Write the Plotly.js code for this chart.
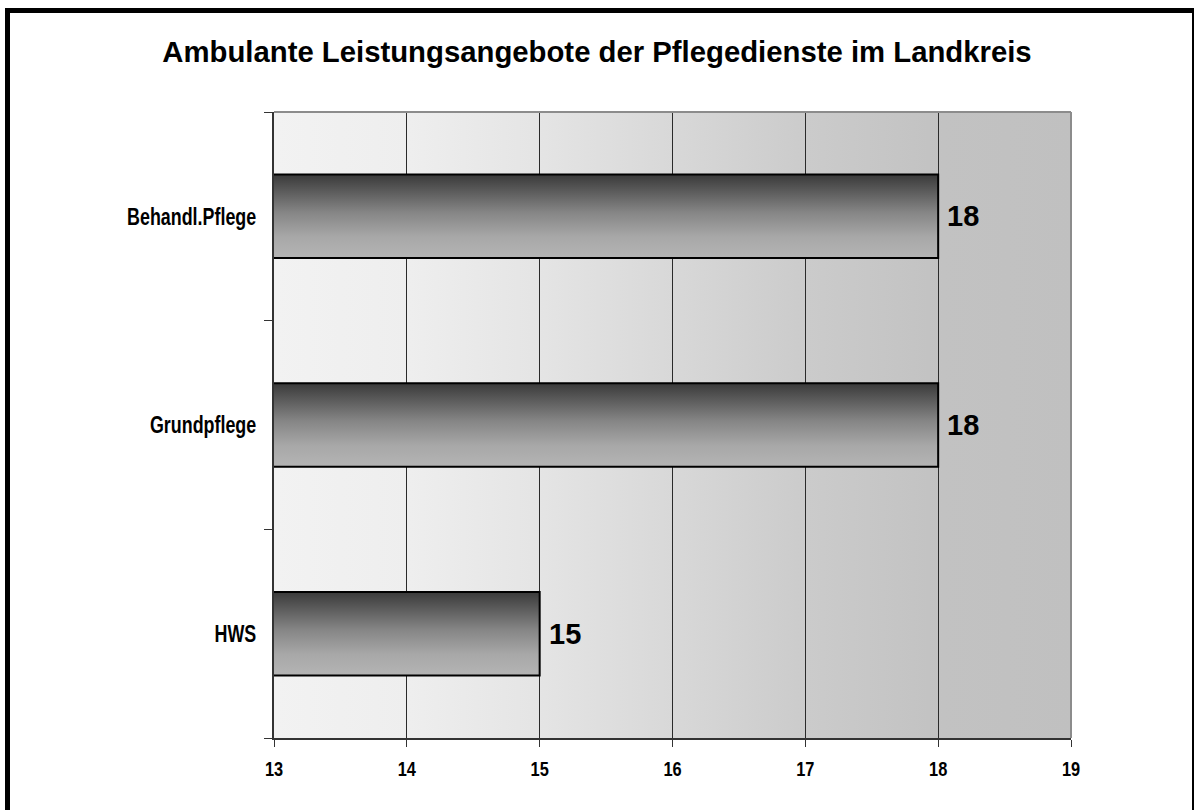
<!DOCTYPE html>
<html>
<head>
<meta charset="utf-8">
<script src="https://cdn.plot.ly/plotly-3.0.1.min.js"></script>
<style>
  html, body { margin: 0; padding: 0; background: #ffffff; }
  #chart { width: 1194px; height: 810px; }
</style>
</head>
<body>
<div id="chart"></div>
<script>
// ---- data ----
const categories = ['HWS', 'Grundpflege', 'Behandl.Pflege'];
const values = [15, 18, 18];
const xTickValues = [13, 14, 15, 16, 17, 18, 19];
const chartTitle = 'Ambulante Leistungsangebote der Pflegedienste im Landkreis';

// ---- layout constants ----
const W = 1194, H = 810;
const M = { l: 274, r: 123, t: 112, b: 72 };
const plotW = W - M.l - M.r, plotH = H - M.t - M.b;
const px2x = p => (p - M.l) / plotW;
const px2y = p => 1 - (p - M.t) / plotH;

const sans = '"Liberation Sans", Arial, sans-serif';

const trace = {
  type: 'bar',
  orientation: 'h',
  x: values,
  y: categories,
  width: 0.4,
  marker: { color: '#808080', line: { color: '#000000', width: 2 } },
  hoverinfo: 'x+y'
};

const annotations = values.map((v, i) => ({
  x: v, y: categories[i], xref: 'x', yref: 'y',
  text: String(v), showarrow: false,
  xanchor: 'left', yanchor: 'middle', xshift: 7,
  font: { family: sans, size: 29, color: '#000000', weight: 'bold' }
}));

const layout = {
  width: W, height: H,
  margin: M,
  paper_bgcolor: '#ffffff',
  plot_bgcolor: '#d8d8d8',
  showlegend: false,
  title: {
    text: '<b>' + chartTitle + '</b>',
    xref: 'container', x: 0.5, xanchor: 'center',
    yref: 'container', y: 1 - 41 / H, yanchor: 'top',
    font: { family: sans, size: 29.3, color: '#000000' }
  },
  xaxis: {
    range: [13, 19],
    tickvals: xTickValues,
    ticktext: xTickValues.map(String),
    showgrid: true, gridcolor: '#2a2a2a', gridwidth: 1,
    zeroline: false,
    showline: true, linecolor: '#333333', linewidth: 2,
    ticks: 'outside', ticklen: 7, tickwidth: 1, tickcolor: '#333333',
    ticklabelstandoff: 4,
    tickfont: { family: sans, size: 21, color: '#000000', weight: 'bold' },
    fixedrange: true
  },
  yaxis: {
    type: 'category',
    categoryorder: 'array', categoryarray: categories,
    range: [-0.5, categories.length - 0.5],
    showgrid: false, zeroline: false,
    showline: true, linecolor: '#333333', linewidth: 2,
    ticks: 'outside', tickson: 'boundaries', ticklen: 8, tickwidth: 1, tickcolor: '#333333',
    ticklabelstandoff: 11,
    tickfont: { family: sans, size: 24, color: '#000000', weight: 'bold' },
    fixedrange: true
  },
  annotations: annotations,
  shapes: [
    { type: 'line', xref: 'paper', yref: 'paper', x0: 0, x1: 1, y0: 1, y1: 1,
      line: { color: '#8c8c8c', width: 2 } },
    { type: 'line', xref: 'paper', yref: 'paper', x0: 1, x1: 1, y0: 0, y1: 1,
      line: { color: '#8c8c8c', width: 2 } },
    { type: 'rect', xref: 'paper', yref: 'paper',
      x0: px2x(7.5), x1: px2x(1194.5), y0: px2y(830), y1: px2y(10.5),
      line: { color: '#000000', width: 5 }, fillcolor: 'rgba(0,0,0,0)' }
  ],
  bargap: 0.6
};

Plotly.newPlot('chart', [trace], layout, { staticPlot: true, responsive: false, displayModeBar: false })
  .then(gd => {
    const svg = gd.querySelector('svg.main-svg');
    const NS = 'http://www.w3.org/2000/svg';
    let defs = svg.querySelector('defs');
    if (!defs) { defs = document.createElementNS(NS, 'defs'); svg.insertBefore(defs, svg.firstChild); }
    function grad(id, horizontal, stops) {
      const g = document.createElementNS(NS, 'linearGradient');
      g.setAttribute('id', id);
      g.setAttribute('x1', '0'); g.setAttribute('y1', '0');
      g.setAttribute('x2', horizontal ? '1' : '0'); g.setAttribute('y2', horizontal ? '0' : '1');
      stops.forEach(([o, c]) => {
        const s = document.createElementNS(NS, 'stop');
        s.setAttribute('offset', o); s.setAttribute('stop-color', c);
        g.appendChild(s);
      });
      defs.appendChild(g);
    }
    grad('bgGrad', true, [[0, '#f2f2f2'], [0.17, '#eeeeee'], [0.34, '#e4e4e4'],
                          [0.5, '#d8d8d8'], [0.67, '#cbcbcb'], [0.84, '#c2c2c2'], [1, '#c0c0c0']]);
    grad('barGrad', false, [[0, '#3a3a3a'], [0.45, '#858585'], [0.75, '#a8a8a8'], [1, '#b4b4b4']]);
    const bg = svg.querySelector('.bglayer rect.bg');
    if (bg) bg.style.fill = 'url(#bgGrad)';
    svg.querySelectorAll('.bars .point path').forEach(p => { p.style.fill = 'url(#barGrad)'; p.style.fillOpacity = 1; });

    // narrow (condensed) look for the axis tick labels, like Arial Narrow
    function condense(selector, sx) {
      svg.querySelectorAll(selector).forEach(t => {
        const x = parseFloat(t.getAttribute('x')) || 0;
        const y = parseFloat(t.getAttribute('y')) || 0;
        const prev = t.getAttribute('transform') || '';
        t.setAttribute('transform', prev + ` translate(${x},${y}) scale(${sx},1) translate(${-x},${-y})`);
      });
    }
    condense('.xtick text', 0.78);
    condense('.ytick text', 0.745);
  });
</script>
</body>
</html>
